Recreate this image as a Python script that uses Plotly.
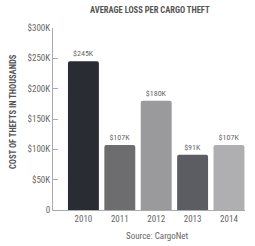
import plotly.graph_objects as go

years = ["2010", "2011", "2012", "2013", "2014"]
values = [245, 107, 180, 91, 107]
labels = ["$245K", "$107K", "$180K", "$91K", "$107K"]
colors = ["#2a2c33", "#6d6d70", "#9a9a9d", "#5c5d62", "#afafb2"]
tick_vals = [0, 50, 100, 150, 200, 250, 300]
tick_text = ["0", "$50K", "$100K", "$150K", "$200K", "$250K", "$300K"]

font_family = "Liberation Sans Narrow, Roboto Condensed, Arial Narrow, Liberation Sans, sans-serif"

W, H = 255, 246
L, R, T, B = 53, 10, 28, 36
pw = W - L - R
ph = H - T - B


def px(x):
    return (x - L) / pw


def py(y):
    return (H - B - y) / ph


fig = go.Figure(go.Bar(
    x=list(range(len(years))), y=values, marker_color=colors,
    width=0.85, text=labels, textposition="outside",
    textfont=dict(size=8, color="#666666", family=font_family),
    cliponaxis=False, hoverinfo="skip",
))
fig.update_traces(marker_line_width=0)
fig.update_layout(
    width=W, height=H,
    margin=dict(l=L, r=R, t=T, b=B, autoexpand=False),
    paper_bgcolor="white", plot_bgcolor="white",
    barcornerradius=2,
    showlegend=False,
    font=dict(family=font_family, color="#666666", size=9),
    xaxis=dict(tickmode="array", tickvals=list(range(len(years))), ticktext=years,
               range=[-0.836, 4.44], showgrid=False, zeroline=False, automargin=False,
               showline=True, linecolor="#aaaaaa", linewidth=1, ticks="",
               tickfont=dict(size=9, color="#666666")),
    yaxis=dict(range=[0, 300], tickvals=tick_vals, ticktext=tick_text, automargin=False,
               showgrid=False, zeroline=False, showline=True, linecolor="#aaaaaa",
               linewidth=1, ticks="inside", ticklen=5, tickcolor="#aaaaaa",
               tickfont=dict(size=9, color="#666666")),
    annotations=[
        dict(text="<b>AVERAGE LOSS PER CARGO THEFT</b>", xref="paper", yref="paper",
             x=px(150), y=py(10.5), xanchor="center", yanchor="middle",
             showarrow=False, font=dict(size=8.5, color="#555555", family=font_family)),
        dict(text="<b>COST OF THEFTS IN THOUSANDS</b>", textangle=-90, xref="paper", yref="paper",
             x=px(13), y=py(112), xanchor="center", yanchor="middle", showarrow=False,
             font=dict(size=8.5, color="#555555", family=font_family)),
        dict(text="Source: CargoNet", xref="paper", yref="paper",
             x=px(157), y=py(236), xanchor="center", yanchor="middle", showarrow=False,
             font=dict(size=9, color="#666666")),
    ],
)
fig.write_html("out.html", config={"displayModeBar": False, "staticPlot": True},
               post_script="document.body.style.margin='0';document.body.style.padding='0';")
